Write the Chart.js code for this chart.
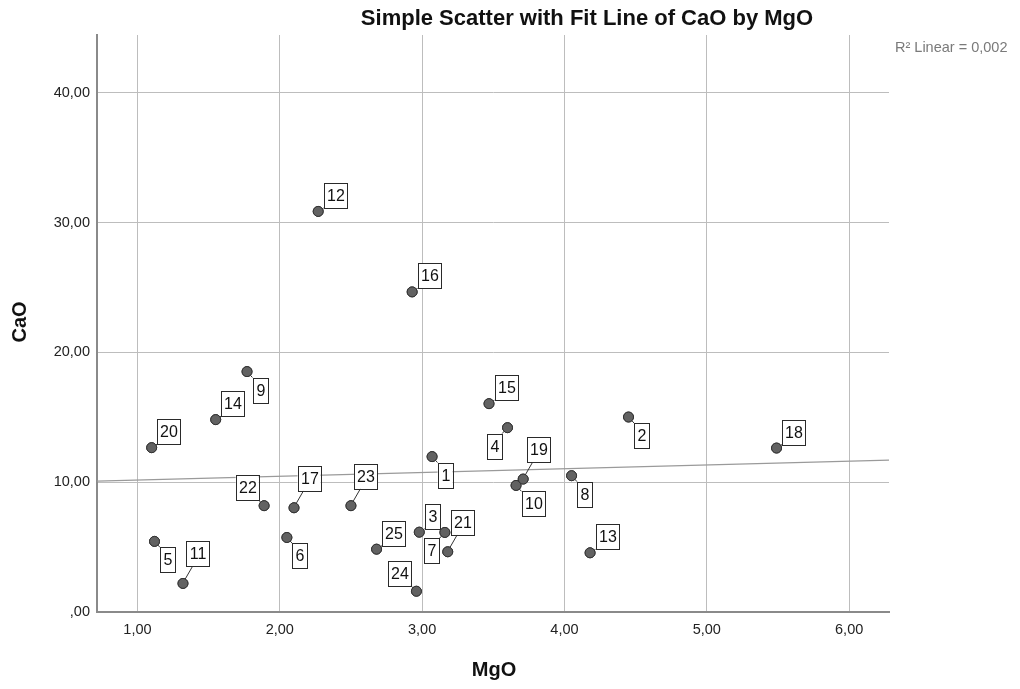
<!DOCTYPE html>
<html>
<head>
<meta charset="utf-8">
<script src="https://cdn.jsdelivr.net/npm/chart.js@4"></script>
<style>
  body { margin: 0; background: #fff; }
  #wrap { width: 1020px; height: 689px; }
</style>
</head>
<body>
<div id="wrap"><canvas id="c" width="1020" height="689"></canvas></div>
<script>
// case numbers and values
const caseIds = [1, 2, 3, 4, 5, 6, 7, 8, 9, 10, 11, 12, 13, 14, 15, 16, 17, 18, 19, 20, 21, 22, 23, 24, 25];
const mgo = [3.07, 4.45, 2.98, 3.60, 1.12, 2.05, 3.16, 4.05, 1.77, 3.66, 1.32, 2.27, 4.18, 1.55, 3.47, 2.93, 2.10, 5.49, 3.71, 1.10, 3.18, 1.89, 2.50, 2.96, 2.68];
const cao = [11.97, 15.02, 6.15, 14.20, 5.44, 5.74, 6.13, 10.50, 18.52, 9.75, 2.20, 30.86, 4.56, 14.82, 16.05, 24.66, 8.03, 12.63, 10.24, 12.66, 4.64, 8.19, 8.19, 1.60, 4.84];

// fit line ends (R2 linear = 0,002)
const fitX = [0.716, 6.28];
const fitY = [10.08, 11.70];

const xTicks = [1, 2, 3, 4, 5, 6];
const yTicks = [0, 10, 20, 30, 40];

const FONT = 'Liberation Sans, Arial, sans-serif';

// where each case label box sits relative to its point
const labelSide = {
    1: 'lr', 2: 'lr', 3: 'ur', 4: 'll', 5: 'lr', 6: 'lr', 7: 'll', 8: 'lr', 9: 'lr', 10: 'lr',
    11: 'far', 12: 'ur', 13: 'ur', 14: 'ur', 15: 'ur', 16: 'ur', 17: 'far', 18: 'ur', 19: 'far',
    20: 'ur', 21: 'far', 22: 'ul', 23: 'far', 24: 'ul', 25: 'ur',
};

function fmt(v) {
    if (v === 0) return ',00';
    return v.toFixed(2).replace('.', ',');
}

const caseLabels = {
    id: 'caseLabels',
    afterDatasetsDraw(chart) {
        const ctx = chart.ctx;
        const meta = chart.getDatasetMeta(0);
        ctx.save();
        ctx.font = '16px ' + FONT;
        ctx.textAlign = 'center';
        ctx.textBaseline = 'middle';
        meta.data.forEach((pt, i) => {
            const id = caseIds[i];
            const text = String(id);
            const w = text.length > 1 ? 23 : 15;
            const h = 25;
            const side = labelSide[id] || 'ur';
            let left, top;
            if (side === 'ur') { left = pt.x + 5.5; top = pt.y - 3.5 - h; }
            else if (side === 'lr') { left = pt.x + 5.5; top = pt.y + 6; }
            else if (side === 'll') { left = pt.x - 5.5 - w; top = pt.y + 6; }
            else if (side === 'ul') { left = pt.x - 5.5 - w; top = pt.y - 5.5 - h; }
            else { left = pt.x + 3.5; top = pt.y - 17 - h; }

            // leader line
            ctx.strokeStyle = '#333';
            ctx.lineWidth = 1;
            ctx.beginPath();
            if (side === 'far') {
                ctx.moveTo(pt.x + 2, pt.y - 4);
                ctx.lineTo(left + 6, top + h);
            } else {
                const cx = side === 'ur' || side === 'lr' ? left : left + w;
                const cy = side === 'ur' || side === 'ul' ? top + h : top;
                ctx.moveTo(pt.x, pt.y);
                ctx.lineTo(cx, cy);
            }
            ctx.stroke();

            ctx.fillStyle = '#fff';
            ctx.fillRect(left, top, w, h);
            ctx.strokeStyle = '#2a2a2a';
            ctx.strokeRect(Math.round(left) + 0.5, Math.round(top) + 0.5, w, h);
            ctx.fillStyle = '#111';
            ctx.fillText(text, Math.round(left) + 0.5 + w / 2, Math.round(top) + h / 2 + 1.5);

            // keep the marker on top of its leader
            pt.draw(ctx);
        });
        ctx.restore();
    },
};

const texts = {
    id: 'texts',
    afterDraw(chart) {
        const ctx = chart.ctx;
        ctx.save();
        ctx.fillStyle = '#111';
        ctx.textAlign = 'center';
        ctx.textBaseline = 'alphabetic';
        ctx.font = 'bold 22px ' + FONT;
        ctx.fillText('Simple Scatter with Fit Line of CaO by MgO', 587, 25);

        ctx.font = 'bold 20px ' + FONT;
        ctx.textBaseline = 'middle';
        ctx.fillText('MgO', 494, 670);
        ctx.save();
        ctx.translate(20, 322);
        ctx.rotate(-Math.PI / 2);
        ctx.fillText('CaO', 0, 0);
        ctx.restore();

        ctx.font = '14.5px ' + FONT;
        ctx.fillStyle = '#7a7a7a';
        ctx.textAlign = 'left';
        ctx.fillText('R² Linear = 0,002', 895, 48);
        ctx.restore();
    },
};

new Chart(document.getElementById('c'), {
    data: {
        datasets: [
            {
                type: 'scatter',
                order: 0,
                data: mgo.map((x, i) => ({ x: x, y: cao[i] })),
                pointRadius: 5,
                pointHoverRadius: 5,
                backgroundColor: '#626262',
                borderColor: '#333333',
                borderWidth: 1,
            },
            {
                type: 'line',
                order: 1,
                data: fitX.map((x, i) => ({ x: x, y: fitY[i] })),
                borderColor: '#9a9a9a',
                borderWidth: 1.2,
                pointRadius: 0,
                fill: false,
            },
        ],
    },
    options: {
        responsive: false,
        animation: false,
        events: [],
        layout: { padding: { top: 35, right: 131, bottom: 0, left: 0 } },
        plugins: {
            legend: { display: false },
            tooltip: { enabled: false },
            title: { display: false },
        },
        scales: {
            x: {
                type: 'linear',
                min: 0.716,
                max: 6.28,
                afterBuildTicks: (s) => { s.ticks = xTicks.map((v) => ({ value: v })); },
                afterFit: (s) => { s.height = 77; },
                grid: { color: '#bdbdbd', lineWidth: 1, drawTicks: false },
                border: { color: '#8a8a8a', width: 2 },
                ticks: {
                    padding: 9,
                    color: '#222',
                    font: { family: FONT, size: 14.5 },
                    callback: (v) => fmt(v),
                },
            },
            y: {
                type: 'linear',
                min: 0,
                max: 44.45,
                afterBuildTicks: (s) => { s.ticks = yTicks.map((v) => ({ value: v })); },
                afterFit: (s) => { s.width = 97; },
                grid: { color: '#bdbdbd', lineWidth: 1, drawTicks: false },
                border: { color: '#8a8a8a', width: 2 },
                ticks: {
                    padding: 7,
                    color: '#222',
                    font: { family: FONT, size: 14.5 },
                    callback: (v) => fmt(v),
                },
            },
        },
    },
    plugins: [caseLabels, texts],
});
</script>
</body>
</html>
